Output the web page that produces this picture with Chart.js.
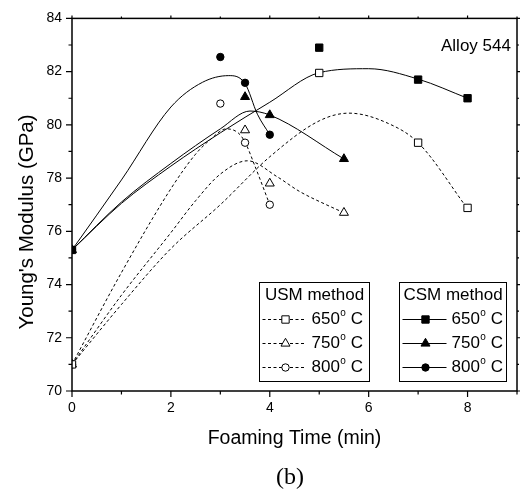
<html>
<head>
  <title>Young's Modulus vs Foaming Time</title>
  <script src="https://cdn.jsdelivr.net/npm/chart.js"></script>
  <style>
    body { margin: 0; background: #fff; }
  </style>
</head>
<body>
  <canvas id="modulusChart" width="526" height="494"></canvas>

  <script>
    // measured points (time in min, modulus in GPa)
    const usmTime650 = [0, 5, 7, 8];
    const usm650 = [71.0, 81.95, 79.33, 76.88];
    const usmTime750 = [0, 3.5, 4, 5.5];
    const usm750 = [71.0, 79.8, 77.8, 76.7];
    const usmTime800 = [0, 3, 3.5, 4];
    const usm800 = [71.0, 80.8, 79.33, 77.0];

    const csmTime650 = [0, 5, 7, 8];
    const csm650 = [75.3, 82.9, 81.7, 81.0];
    const csmTime750 = [0, 3.5, 4, 5.5];
    const csm750 = [75.3, 81.05, 80.37, 78.72];
    const csmTime800 = [0, 3, 3.5, 4];
    const csm800 = [75.3, 82.55, 81.58, 79.63];

    // fitted curves
    const fitUsmTime650 = [0, 1, 2, 3, 4, 5, 5.6, 6.4, 7, 8];
    const fitUsm650 = [71.0, 73.25, 75.35, 77.0, 78.8, 80.15, 80.44, 80.05, 79.33, 76.85];
    const fitUsmTime750 = [0, 1, 2, 2.5, 3, 3.55, 4.15, 4.6, 5.2, 5.5];
    const fitUsm750 = [71.0, 73.6, 75.95, 77.15, 78.15, 78.65, 78.05, 77.5, 76.95, 76.7];
    const fitUsmTime800 = [0, 1, 2, 2.5, 2.8, 3.12, 3.36, 3.5, 3.7, 4];
    const fitUsm800 = [71.0, 74.45, 77.6, 78.9, 79.45, 79.85, 79.7, 79.35, 78.45, 77.0];

    const fitCsmTime650 = [0, 1, 2, 3, 4, 5, 6, 7, 8];
    const fitCsm650 = [75.3, 77.05, 78.45, 79.7, 80.85, 81.96, 82.11, 81.72, 81.0];
    const fitCsmTime750 = [0, 1, 2, 3, 3.6, 4, 5.5];
    const fitCsm750 = [75.3, 77.1, 78.55, 79.85, 80.52, 80.37, 78.72];
    const fitCsmTime800 = [0, 1, 2, 2.64, 3.17, 3.5, 3.75, 4];
    const fitCsm800 = [75.3, 77.93, 80.67, 81.6, 81.85, 81.55, 80.4, 79.63];

    const temps = ['650', '750', '800'];
    const shapes = ['rect', 'triangle', 'circle'];

    const FONT = '"Liberation Sans", Arial, sans-serif';
    const pts = (xs, ys) => xs.map((t, i) => ({ x: t, y: ys[i] }));

    function markerSet(xs, ys, shape, filled) {
      return {
        data: pts(xs, ys),
        showLine: false,
        pointStyle: shape,
        pointRadius: shape === 'circle' ? 3.7 : 5.2,
        pointBackgroundColor: filled ? '#000' : '#fff',
        pointBorderColor: '#000',
        pointBorderWidth: 1,
        order: 0
      };
    }

    function curveSet(xs, ys, dashed) {
      return {
        data: pts(xs, ys),
        showLine: true,
        pointRadius: 0,
        borderColor: '#000',
        borderWidth: 1,
        borderDash: dashed ? [3, 2.5] : [],
        cubicInterpolationMode: 'monotone',
        order: 1
      };
    }

    const extras = {
      id: 'extras',
      afterDraw(chart) {
        const { ctx, chartArea: a, scales: { x, y } } = chart;
        ctx.save();
        ctx.strokeStyle = '#000';
        ctx.fillStyle = '#000';

        // frame
        ctx.lineWidth = 1.5;
        ctx.strokeRect(a.left, a.top, a.right - a.left, a.bottom - a.top);

        // ticks (major on even values)
        ctx.lineWidth = 1.2;
        ctx.beginPath();
        x.ticks.forEach(t => {
          const px = x.getPixelForValue(t.value);
          const big = t.value % 2 === 0;
          ctx.moveTo(px, a.bottom); ctx.lineTo(px, a.bottom + (big ? 6 : 3.5));
          ctx.moveTo(px, a.top); ctx.lineTo(px, a.top - (big ? 3 : 2));
        });
        y.ticks.forEach(t => {
          const py = y.getPixelForValue(t.value);
          const big = t.value % 2 === 0;
          ctx.moveTo(a.left, py); ctx.lineTo(a.left - (big ? 6 : 3.5), py);
          ctx.moveTo(a.right, py); ctx.lineTo(a.right + (big ? 3 : 2), py);
        });
        ctx.stroke();

        // axis titles
        ctx.textAlign = 'center';
        ctx.textBaseline = 'middle';
        ctx.font = '19.5px ' + FONT;
        ctx.fillText('Foaming Time (min)', (a.left + a.right) / 2, 439);
        ctx.save();
        ctx.translate(27, 222);
        ctx.rotate(-Math.PI / 2);
        ctx.font = '20.5px ' + FONT;
        ctx.fillText("Young's Modulus (GPa)", 0, 0);
        ctx.restore();

        ctx.font = '24px "Liberation Serif", "Times New Roman", serif';
        ctx.fillText('(b)', 290, 478);

        ctx.font = '17px ' + FONT;
        ctx.textAlign = 'left';
        ctx.fillText('Alloy 544', 441, 46);

        // legend boxes
        drawLegend(ctx, 259.5, 282.5, 110, 99, 'USM method', true);
        drawLegend(ctx, 399.5, 282.5, 107, 99, 'CSM method', false);
        ctx.restore();
      }
    };

    function drawLegend(ctx, bx, by, bw, bh, title, open) {
      ctx.fillStyle = '#fff';
      ctx.fillRect(bx, by, bw, bh);
      ctx.lineWidth = 1;
      ctx.strokeStyle = '#000';
      ctx.strokeRect(bx, by, bw, bh);
      ctx.fillStyle = '#000';
      ctx.font = '17px ' + FONT;
      ctx.textAlign = 'center';
      ctx.textBaseline = 'middle';
      ctx.fillText(title, bx + bw / 2, by + 13);

      temps.forEach((temp, i) => {
        const ry = by + 37 + i * 24;
        const x0 = bx + 3, x1 = bx + 47, mx = bx + 26;
        ctx.setLineDash(open ? [3, 2.5] : []);
        ctx.lineWidth = 1;
        ctx.beginPath();
        ctx.moveTo(x0, ry); ctx.lineTo(x1, ry);
        ctx.stroke();
        ctx.setLineDash([]);
        ctx.fillStyle = open ? '#fff' : '#000';
        Chart.helpers.drawPoint(ctx, {
          pointStyle: shapes[i],
          radius: shapes[i] === 'circle' ? 3.7 : 5.2,
          rotation: 0,
          borderWidth: 1
        }, mx, ry);
        ctx.fillStyle = '#000';

        ctx.textAlign = 'left';
        const tx = bx + 52;
        ctx.font = '17px ' + FONT;
        ctx.fillText(temp, tx, ry);
        const w = ctx.measureText(temp).width;
        ctx.font = '10px ' + FONT;
        ctx.fillText('o', tx + w + 0.5, ry - 6);
        const w2 = ctx.measureText('o').width;
        ctx.font = '17px ' + FONT;
        ctx.fillText(' C', tx + w + w2 + 0.5, ry);
      });
    }

    new Chart(document.getElementById('modulusChart'), {
      type: 'scatter',
      data: {
        datasets: [
          markerSet(usmTime650, usm650, 'rect', false),
          markerSet(usmTime750, usm750, 'triangle', false),
          markerSet(usmTime800, usm800, 'circle', false),
          markerSet(csmTime650, csm650, 'rect', true),
          markerSet(csmTime750, csm750, 'triangle', true),
          markerSet(csmTime800, csm800, 'circle', true),
          curveSet(fitUsmTime650, fitUsm650, true),
          curveSet(fitUsmTime750, fitUsm750, true),
          curveSet(fitUsmTime800, fitUsm800, true),
          curveSet(fitCsmTime650, fitCsm650, false),
          curveSet(fitCsmTime750, fitCsm750, false),
          curveSet(fitCsmTime800, fitCsm800, false)
        ]
      },
      options: {
        responsive: false,
        animation: false,
        layout: { padding: { left: 0, right: 4, top: 13, bottom: 0 } },
        plugins: { legend: { display: false }, tooltip: { enabled: false } },
        scales: {
          x: {
            type: 'linear',
            min: 0,
            max: 9,
            afterFit: s => { s.height = 103; },
            grid: { display: true, drawOnChartArea: false, drawTicks: false },
            border: { display: false },
            ticks: {
              stepSize: 1,
              autoSkip: false,
              maxRotation: 0,
              padding: 9,
              color: '#000',
              font: { family: FONT, size: 14 },
              callback: v => (v % 2 === 0 ? v : '')
            }
          },
          y: {
            min: 70,
            max: 84,
            afterFit: s => { s.width = 72; },
            grid: { display: true, drawOnChartArea: false, drawTicks: false },
            border: { display: false },
            ticks: {
              stepSize: 1,
              autoSkip: false,
              padding: 10,
              color: '#000',
              font: { family: FONT, size: 14 },
              callback: v => (v % 2 === 0 ? v : '')
            }
          }
        }
      },
      plugins: [extras]
    });
  </script>
</body>
</html>
